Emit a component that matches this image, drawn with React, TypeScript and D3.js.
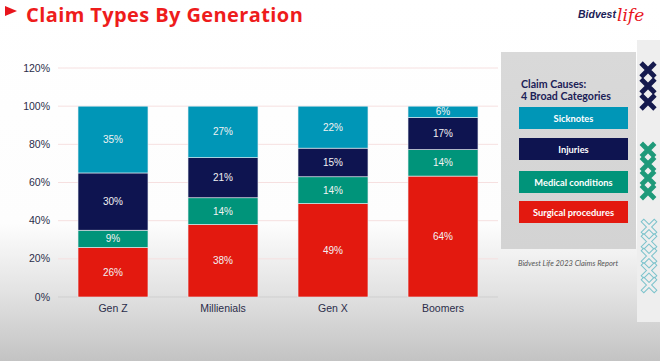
import React from "react";
import * as d3 from "d3";

const generations = ["Gen Z", "Millienials", "Gen X", "Boomers"];
const surgical = [26, 38, 49, 64];
const medical = [9, 14, 14, 14];
const injuries = [30, 21, 15, 17];
const sicknotes = [35, 27, 22, 6];
const yTicks = [0, 20, 40, 60, 80, 100, 120];
const seriesKeys = ["Surgical procedures", "Medical conditions", "Injuries", "Sicknotes"];
const legendOrder = ["Sicknotes", "Injuries", "Medical conditions", "Surgical procedures"];
const colors: Record<string, string> = {
  "Surgical procedures": "#e3190f",
  "Medical conditions": "#00947a",
  "Injuries": "#0e1450",
  "Sicknotes": "#0096b7",
};

const W = 660;
const H = 361;

function XMark({ cx, cy, s, kind }: { cx: number; cy: number; s: number; kind: string }) {
  const h = s / 2;
  const d = `M${cx - h},${cy - h}L${cx + h},${cy + h}M${cx + h},${cy - h}L${cx - h},${cy + h}`;
  if (kind === "outline") {
    return (
      <g>
        <path d={d} stroke="#7cc3cc" strokeWidth={4.6} strokeLinecap="square" fill="none" />
        <path d={d} stroke="#eeeeee" strokeWidth={2.6} strokeLinecap="square" fill="none" />
      </g>
    );
  }
  return <path d={d} stroke={kind} strokeWidth={4.8} strokeLinecap="square" fill="none" />;
}

export default function App() {
  const rows = generations.map((g, i) => ({
    gen: g,
    "Surgical procedures": surgical[i],
    "Medical conditions": medical[i],
    "Injuries": injuries[i],
    "Sicknotes": sicknotes[i],
  }));
  // 100% stacked: each column normalised to its total
  const stacked = d3.stack<any>().keys(seriesKeys).offset(d3.stackOffsetExpand)(rows);

  const x = d3.scaleBand<string>().domain(generations).range([58, 498]).paddingInner(0.364).paddingOuter(0.182);
  const y = d3.scaleLinear().domain([0, 120]).range([297, 68]);

  const navyX = [0, 1, 2];
  const greenX = [0, 1, 2, 3];
  const outlineX = [0, 1, 2, 3, 4];

  return (
    <div style={{ position: "fixed", left: 0, top: 0, width: W, height: H }}>
      <svg width={W} height={H} style={{ display: "block" }}>
        <defs>
          <linearGradient id="bg" x1="0" y1="0" x2="0" y2="1">
            <stop offset="0" stopColor="#ffffff" />
            <stop offset="0.62" stopColor="#fdfdfd" />
            <stop offset="0.8" stopColor="#e4e4e4" />
            <stop offset="1" stopColor="#c3c3c3" />
          </linearGradient>
          <linearGradient id="panel" x1="0" y1="0" x2="0" y2="1">
            <stop offset="0" stopColor="#d9d9d9" />
            <stop offset="1" stopColor="#d3d3d3" />
          </linearGradient>
        </defs>
        <rect x={0} y={0} width={W} height={H} fill="url(#bg)" />

        {/* title */}
        <path d="M5,6L17,11L5,16Z" fill="#e8141c" />
        <text x={26} y={21.5} fill="#ee1c1c" fontFamily="'Open Sans', Lato, sans-serif" fontWeight="bold" fontSize={20} letterSpacing={0.4}>
          Claim Types By Generation
        </text>

        {/* logo */}
        <text x={578} y={18} fill="#1c2157" fontFamily="'Liberation Sans', Arial, sans-serif" fontWeight="bold" fontStyle="italic" fontSize={10.5}>
          Bidvest
        </text>
        <text x={617} y={21} fill="#e8141c" fontFamily="'DejaVu Serif', serif" fontStyle="italic" fontSize={17}>
          life
        </text>

        {/* gridlines */}
        {yTicks.map((t) => (
          <line key={t} x1={58} x2={498} y1={y(t)} y2={y(t)} stroke={t === 0 ? "#cfcfcf" : "#f6e0e0"} strokeWidth={1} />
        ))}
        {yTicks.map((t) => (
          <text key={"l" + t} x={50} y={y(t) + 3.5} textAnchor="end" fill="#2b2d4a" fontFamily="'Liberation Sans', Arial, sans-serif" fontSize={10.5}>
            {t}%
          </text>
        ))}

        {/* bars */}
        {stacked.map((s) => (
          <g key={s.key}>
            {s.map((d, i) => {
              const x0 = x(generations[i]) as number;
              const y0 = y(d[1] * 100);
              const y1 = y(d[0] * 100);
              return (
                <g key={i}>
                  <rect x={x0} y={y0} width={x.bandwidth()} height={y1 - y0} fill={colors[s.key]} stroke="#e9eef2" strokeWidth={0.6} />
                  <text x={x0 + x.bandwidth() / 2} y={(y0 + y1) / 2 + 3.5} textAnchor="middle" fill="#f2f2f2" fontFamily="'Liberation Sans', Arial, sans-serif" fontSize={10}>
                    {(d.data as any)[s.key]}%
                  </text>
                </g>
              );
            })}
          </g>
        ))}

        {generations.map((g) => (
          <text key={g} x={(x(g) as number) + x.bandwidth() / 2} y={312} textAnchor="middle" fill="#2b2d4a" fontFamily="'Liberation Sans', Arial, sans-serif" fontSize={10.5}>
            {g}
          </text>
        ))}

        {/* legend panel */}
        <rect x={501} y={52} width={135} height={197} fill="url(#panel)" />
        <text x={521} y={88} fill="#1c2157" fontFamily="Lato, sans-serif" fontWeight="bold" fontSize={10.6}>
          Claim Causes:
        </text>
        <text x={521} y={100} fill="#1c2157" fontFamily="Lato, sans-serif" fontWeight="bold" fontSize={10.6}>
          4 Broad Categories
        </text>
        {legendOrder.map((k, i) => {
          const ys = [107, 138, 171, 201];
          return (
            <g key={k}>
              <rect x={519} y={ys[i]} width={109} height={22} fill={colors[k]} />
              <text x={573.5} y={ys[i] + 14.5} textAnchor="middle" fill="#ffffff" fontFamily="Lato, sans-serif" fontWeight="bold" fontSize={9.3}>
                {k}
              </text>
            </g>
          );
        })}
        <text x={568} y={266} textAnchor="middle" fill="#555555" fontFamily="Lato, sans-serif" fontStyle="italic" fontSize={7.5}>
          Bidvest Life 2023 Claims Report
        </text>

        {/* right strip */}
        <rect x={637} y={40} width={23} height={282} fill="#eeeeee" />
        {navyX.map((i) => (
          <XMark key={"n" + i} cx={648} cy={70 + i * 16} s={10.5} kind="#151a4d" />
        ))}
        {greenX.map((i) => (
          <XMark key={"g" + i} cx={648} cy={150 + i * 14} s={10} kind="#1f9a7a" />
        ))}
        {outlineX.map((i) => (
          <XMark key={"o" + i} cx={649} cy={227 + i * 14.5} s={10.5} kind="outline" />
        ))}
      </svg>
    </div>
  );
}
